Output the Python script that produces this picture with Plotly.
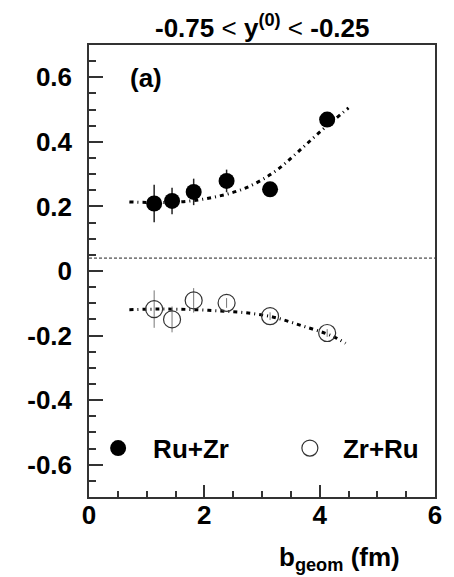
import plotly.graph_objects as go

# ---- data ----
b_geom = [1.13, 1.44, 1.815, 2.386, 3.14, 4.13]
ruzr_v = [0.209, 0.217, 0.245, 0.279, 0.253, 0.469]
ruzr_err = [0.058, 0.041, 0.041, 0.035, 0.015, 0.020]
zrru_v = [-0.118, -0.150, -0.091, -0.099, -0.140, -0.192]
zrru_err = [0.058, 0.040, 0.038, 0.015, 0.012, 0.012]

fit_ru_x = [0.7, 1.2, 1.7, 2.2, 2.7, 3.2, 3.6, 4.0, 4.5]
fit_ru_y = [0.214, 0.212, 0.216, 0.230, 0.256, 0.305, 0.365, 0.430, 0.505]
fit_zr_x = [0.7, 1.2, 1.7, 2.2, 2.7, 3.2, 3.7, 4.2, 4.45]
fit_zr_y = [-0.120, -0.118, -0.119, -0.123, -0.129, -0.143, -0.170, -0.200, -0.224]

ref_line_y = 0.04
x_ticks = [0, 2, 4, 6]
y_ticks = [-0.6, -0.4, -0.2, 0, 0.2, 0.4, 0.6]
y_tick_text = ["-0.6", "-0.4", "-0.2", "0", "0.2", "0.4", "0.6"]

FONT = "Liberation Sans, Arial, Helvetica, sans-serif"
dash_pat = "4px,4px,1px,4px"

fig = go.Figure()
fig.add_trace(go.Scatter(x=fit_ru_x, y=fit_ru_y, mode="lines",
                         line=dict(color="black", width=3, dash=dash_pat, shape="spline"),
                         showlegend=False, hoverinfo="skip"))
fig.add_trace(go.Scatter(x=fit_zr_x, y=fit_zr_y, mode="lines",
                         line=dict(color="black", width=3, dash=dash_pat, shape="spline"),
                         showlegend=False, hoverinfo="skip"))
fig.add_trace(go.Scatter(x=b_geom, y=ruzr_v, mode="markers", name="Ru+Zr",
                         legend="legend",
                         marker=dict(symbol="circle", size=16, color="black"),
                         error_y=dict(type="data", array=ruzr_err, color="#222",
                                      thickness=1.5, width=0)))
fig.add_trace(go.Scatter(x=b_geom, y=zrru_v, mode="markers", name="Zr+Ru",
                         legend="legend2",
                         marker=dict(symbol="circle-open", size=17, color="#333",
                                     line=dict(width=1.2, color="#333")),
                         error_y=dict(type="data", array=zrru_err, color="#777",
                                      thickness=1, width=0)))

fig.add_shape(type="line", xref="paper", x0=0, x1=1, yref="y",
              y0=ref_line_y, y1=ref_line_y,
              line=dict(color="#222", width=1, dash="3px,2px"))

axis_common = dict(showgrid=False, zeroline=False, showline=True, mirror=True,
                   linecolor="#333", linewidth=1.5, ticks="inside",
                   tickcolor="#333", tickwidth=1.5,
                   tickfont=dict(family=FONT, size=26, color="black", weight="bold"))

fig.update_xaxes(range=[0, 6], tickvals=x_ticks, ticklen=12,
                 minor=dict(dtick=0.5, ticks="inside", ticklen=6,
                            tickcolor="#333", tickwidth=1.5),
                 ticklabelstandoff=-6, **axis_common)
fig.update_yaxes(range=[-0.7, 0.7], tickvals=y_ticks, ticktext=y_tick_text,
                 ticklen=14,
                 minor=dict(dtick=0.05, ticks="inside", ticklen=7,
                            tickcolor="#333", tickwidth=1.5),
                 ticklabelstandoff=10, **axis_common)

fig.add_annotation(text="<b>-0.75</b> < <b>y<sup>(0)</sup></b> < <b>-0.25</b>",
                   xref="paper", yref="paper", x=0.5, y=1.0,
                   xanchor="center", yanchor="bottom", showarrow=False,
                   font=dict(family=FONT, size=26, color="black"))
fig.add_annotation(text="<b>(a)</b>", xref="paper", yref="paper",
                   x=0.166, y=0.928, xanchor="center", yanchor="middle",
                   showarrow=False, font=dict(family=FONT, size=26, color="black"))
fig.add_annotation(text="<b>b<sub>geom</sub> (fm)</b>", xref="paper", yref="paper",
                   x=0.905, y=-0.137, xanchor="right", yanchor="middle",
                   showarrow=False, font=dict(family=FONT, size=26, color="black"))

legend_font = dict(family=FONT, size=26, color="black", weight="bold")
fig.update_layout(
    width=454, height=577,
    margin=dict(l=89, r=15, t=45, b=80),
    paper_bgcolor="white", plot_bgcolor="white",
    legend=dict(orientation="h", x=-0.017, y=0.108, xanchor="left", yanchor="middle",
                bgcolor="rgba(0,0,0,0)", itemwidth=60, font=legend_font),
    legend2=dict(orientation="h", x=0.543, y=0.108, xanchor="left", yanchor="middle",
                 bgcolor="rgba(0,0,0,0)", itemwidth=56, font=legend_font),
)

fig.write_html("out.html")
